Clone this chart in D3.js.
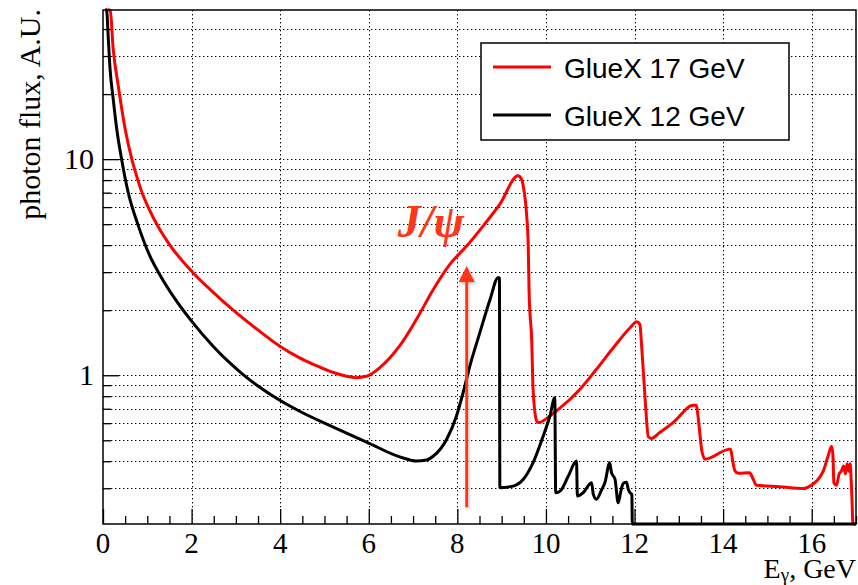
<!DOCTYPE html>
<html>
<head>
<meta charset="utf-8">
<script src="https://cdn.jsdelivr.net/npm/d3@7"></script>
<style>
  html, body { margin: 0; padding: 0; background: #fff; }
  svg { display: block; }
</style>
</head>
<body>
<svg id="chart" width="858" height="585"></svg>
<script>
// ---- data ----------------------------------------------------------------
// Photon energy (GeV) and relative flux for the 17 GeV beam
const energy17 = [0.05, 0.16, 0.23, 0.345, 0.50, 0.65, 0.76, 0.87, 1.02, 1.25, 1.51, 2.02, 2.49, 2.94, 3.62,
  4.00, 4.45, 4.75, 5.20, 5.50, 5.70, 5.95, 6.25, 6.70, 7.08, 7.46, 7.83, 8.21, 8.58, 8.96, 9.37, 9.45, 9.50,
  9.56, 9.60, 9.62, 9.68, 9.71, 9.79, 9.83, 10.09, 10.24, 10.77, 11.14, 11.52, 11.90, 12.05, 12.12, 12.16,
  12.20, 12.25, 12.31, 12.38, 12.57, 12.87, 13.33, 13.39, 13.44, 13.48, 13.52, 13.59, 14.12, 14.17, 14.21,
  14.27, 14.34, 14.60, 14.68, 14.75, 15.28, 15.81, 15.96, 16.11, 16.26, 16.37, 16.45, 16.48, 16.50, 16.56,
  16.62, 16.67, 16.72, 16.76, 16.80, 16.84, 16.87, 16.89, 16.91, 16.93, 17.0];
const flux17 = [90, 49.5, 32.3, 21.8, 13.8, 10.0, 8.35, 7.1, 6.0, 4.85, 4.0, 3.0, 2.42, 2.0, 1.55,
  1.358, 1.20, 1.124, 1.03, 0.99, 0.975, 0.99, 1.085, 1.37, 1.82, 2.50, 3.26, 3.96, 4.90, 6.19, 8.37, 8.07, 7.25,
  5.66, 3.97, 2.41, 1.42, 0.86, 0.614, 0.604, 0.648, 0.684, 0.862, 1.066, 1.34, 1.66, 1.77, 1.72, 1.37,
  1.03, 0.72, 0.52, 0.51, 0.543, 0.604, 0.726, 0.726, 0.63, 0.524, 0.446, 0.409, 0.454, 0.455, 0.409,
  0.36, 0.352, 0.354, 0.33, 0.31, 0.305, 0.299, 0.307, 0.324, 0.36, 0.423, 0.47, 0.423, 0.318, 0.31,
  0.35, 0.36, 0.38, 0.35, 0.39, 0.36, 0.39, 0.33, 0.267, 0, 0];

// Photon energy (GeV) and relative flux for the 12 GeV beam
const energy12 = [0.05, 0.08, 0.12, 0.16, 0.23, 0.31, 0.42, 0.57, 0.80, 1.06, 1.25, 1.63, 2.00, 2.49,
  2.87, 3.15, 3.54, 3.88, 4.45, 5.20, 5.95, 6.70, 7.08, 7.30, 7.46, 7.76, 7.98, 8.13, 8.28,
  8.51, 8.74, 8.92, 8.95, 8.96, 9.26, 9.49, 9.71, 9.94, 10.09, 10.20, 10.22, 10.32, 10.50, 10.69, 10.71,
  10.84, 11.03, 11.07, 11.14, 11.26, 11.33, 11.44, 11.48, 11.56, 11.63, 11.67, 11.71, 11.76, 11.82, 11.86,
  11.90, 11.94, 11.95, 17.0];
const flux12 = [90, 49.5, 36, 26, 19, 13.8, 10, 7.0, 4.9, 3.56, 3.0, 2.25, 1.78, 1.36,
  1.137, 1.012, 0.880, 0.791, 0.680, 0.576, 0.491, 0.419, 0.401, 0.405, 0.423, 0.506, 0.648, 0.83, 1.10,
  1.58, 2.25, 2.83, 2.83, 0.302, 0.307, 0.33, 0.394, 0.524, 0.648, 0.788, 0.286, 0.291, 0.34, 0.401, 0.276,
  0.286, 0.318, 0.281, 0.267, 0.296, 0.318, 0.394, 0.354, 0.33, 0.257, 0.276, 0.302, 0.318, 0.32, 0.296,
  0.286, 0.28, 0, 0];

const seriesNames = ["GlueX 17 GeV", "GlueX 12 GeV"];
const xTickValues = [0, 2, 4, 6, 8, 10, 12, 14, 16];
const yTickLabels = [1, 10];
const xDomain = [0, 17];
const yDomain = [0.205, 49];

// J/psi photoproduction threshold and the flux span of its marker arrow
const jpsiThreshold = 8.21;
const jpsiArrowFlux = [0.245, 3.2];

// ---- layout --------------------------------------------------------------
const W = 858, H = 585;
const margin = { left: 103, right: 2, top: 10, bottom: 61 };
const plotW = W - margin.left - margin.right;
const plotH = H - margin.top - margin.bottom;

const svg = d3.select("#chart");
const g = svg.append("g").attr("transform", `translate(${margin.left},${margin.top})`);

const x = d3.scaleLinear().domain(xDomain).range([0, plotW]);
const y = d3.scaleLog().domain(yDomain).range([plotH, 0]).clamp(true);

const serif = "'Liberation Serif', 'Times New Roman', serif";
const sans = "'Liberation Sans', Arial, Helvetica, sans-serif";
const accent = "#ff3618";

// ---- grid ----------------------------------------------------------------
const logTicks = [];
for (let dec = 0.1; dec <= 10; dec *= 10) {
  for (let m = 1; m <= 9; m++) {
    const v = +(m * dec).toPrecision(3);
    if (v > yDomain[0] && v < yDomain[1]) logTicks.push(v);
  }
}

const grid = g.append("g").attr("stroke", "#000").attr("stroke-width", 1)
  .attr("stroke-dasharray", "1.4,2.6").attr("fill", "none");
grid.selectAll("line.h").data(logTicks).join("line").attr("class", "h")
  .attr("x1", 0).attr("x2", plotW)
  .attr("y1", d => Math.round(y(d)) + 0.5).attr("y2", d => Math.round(y(d)) + 0.5);
grid.selectAll("line.v").data(xTickValues.filter(d => d > 0)).join("line").attr("class", "v")
  .attr("y1", 0).attr("y2", plotH)
  .attr("x1", d => Math.round(x(d)) + 0.5).attr("x2", d => Math.round(x(d)) + 0.5);

// ---- axes ----------------------------------------------------------------
const xMinor = d3.range(0, 17.01, 0.5).filter(d => d % 2 !== 0);
const xAxisMajor = d3.axisBottom(x).tickValues(xTickValues).tickSize(-15).tickFormat("");
const xAxisMinor = d3.axisBottom(x).tickValues(xMinor).tickSize(-8).tickFormat("");
g.append("g").attr("transform", `translate(0,${plotH})`).call(xAxisMinor)
  .call(s => s.select(".domain").remove())
  .selectAll("line").attr("stroke-width", 1.3);
g.append("g").attr("transform", `translate(0,${plotH})`).call(xAxisMajor)
  .call(s => s.select(".domain").remove())
  .selectAll("line").attr("stroke-width", 1.3);

const yMinor = logTicks.filter(d => !yTickLabels.includes(d));
g.append("g").call(d3.axisLeft(y).tickValues(yMinor).tickSize(-8).tickFormat(""))
  .call(s => s.select(".domain").remove())
  .selectAll("line").attr("stroke-width", 1.3);
g.append("g").call(d3.axisLeft(y).tickValues(yTickLabels).tickSize(-16).tickFormat(""))
  .call(s => s.select(".domain").remove())
  .selectAll("line").attr("stroke-width", 1.3);

// tick labels
g.append("g").selectAll("text").data(xTickValues).join("text")
  .attr("x", d => x(d)).attr("y", plotH + 29)
  .attr("text-anchor", "middle")
  .attr("font-family", serif).attr("font-size", 29)
  .text(d => d);
g.append("g").selectAll("text").data(yTickLabels).join("text")
  .attr("x", -9).attr("y", d => y(d)).attr("dy", "0.34em")
  .attr("text-anchor", "end")
  .attr("font-family", serif).attr("font-size", 30)
  .text(d => d);

// axis titles
const xt = svg.append("text")
  .attr("x", margin.left + plotW).attr("y", 578)
  .attr("text-anchor", "end")
  .attr("font-family", serif).attr("font-size", 28);
xt.append("tspan").text("E");
xt.append("tspan").attr("dy", 3).attr("font-size", 19).text("γ");
xt.append("tspan").attr("dy", -3).text(", GeV");

svg.append("text")
  .attr("transform", "translate(40,9) rotate(-90)")
  .attr("text-anchor", "end")
  .attr("font-family", serif).attr("font-size", 30)
  .text("photon flux, A.U.");

// ---- curves --------------------------------------------------------------
const line = d3.line()
  .x(d => x(d[0]))
  .y(d => y(Math.max(d[1], 1e-6)))
  .curve(d3.curveMonotoneX);

const series = [
  { name: seriesNames[0], color: "#ff0000", pts: d3.zip(energy17, flux17) },
  { name: seriesNames[1], color: "#000000", pts: d3.zip(energy12, flux12) }
];

g.append("g").selectAll("path").data(series).join("path")
  .attr("d", d => line(d.pts))
  .attr("fill", "none")
  .attr("stroke", d => d.color)
  .attr("stroke-width", 3)
  .attr("stroke-linejoin", "round");

// ---- frame ---------------------------------------------------------------
g.append("rect").attr("x", 0).attr("y", 0).attr("width", plotW).attr("height", plotH)
  .attr("fill", "none").attr("stroke", "#000").attr("stroke-width", 1.5);

// ---- legend --------------------------------------------------------------
const lg = svg.append("g").attr("transform", "translate(481,43)");
lg.append("rect").attr("width", 308).attr("height", 97)
  .attr("fill", "#fff").attr("stroke", "#000").attr("stroke-width", 1.5);
const rows = lg.selectAll("g.row").data(series).join("g").attr("class", "row")
  .attr("transform", (d, i) => `translate(0,${24 + i * 48})`);
rows.append("line").attr("x1", 12).attr("x2", 70)
  .attr("stroke", d => d.color).attr("stroke-width", 3);
rows.append("text").attr("x", 83).attr("y", 10.5)
  .attr("font-family", sans).attr("font-size", 28)
  .text(d => d.name);

// ---- J/psi threshold marker ---------------------------------------------
const defs = svg.append("defs");
const f = defs.append("filter").attr("id", "soft").attr("x", "-50%").attr("y", "-20%")
  .attr("width", "200%").attr("height", "140%");
f.append("feDropShadow").attr("dx", 1).attr("dy", 1.5).attr("stdDeviation", 1.6)
  .attr("flood-color", "#000").attr("flood-opacity", 0.3);

const ax = x(jpsiThreshold);
const yBot = y(jpsiArrowFlux[0]);
const yTop = y(jpsiArrowFlux[1]);
const arrow = g.append("g").attr("filter", "url(#soft)");
arrow.append("line").attr("x1", ax).attr("x2", ax).attr("y1", yBot).attr("y2", yTop + 10)
  .attr("stroke", accent).attr("stroke-width", 2.8);
arrow.append("path")
  .attr("d", `M${ax},${yTop} L${ax - 8},${yTop + 16} L${ax + 8},${yTop + 16} Z`)
  .attr("fill", accent);

g.append("text")
  .attr("x", ax - 69).attr("y", yTop - 29)
  .attr("font-family", serif).attr("font-size", 46)
  .attr("font-style", "italic").attr("font-weight", "bold")
  .attr("fill", accent)
  .text("J/ψ");
</script>
</body>
</html>
